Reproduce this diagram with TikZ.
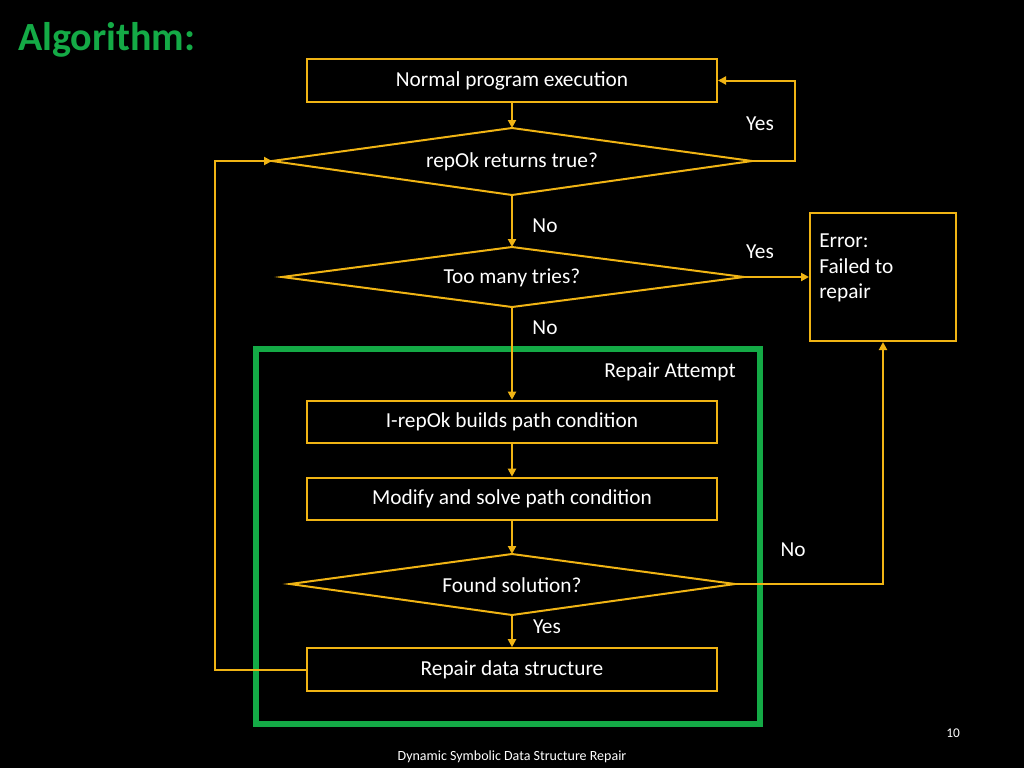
\documentclass[tikz,border=0pt]{standalone}
\usepackage{fontspec}
\setmainfont{Carlito}
\usetikzlibrary{arrows.meta}
\definecolor{flow}{RGB}{240,180,20}
\definecolor{grn}{RGB}{20,170,70}
\tikzset{
  box/.style={draw=flow,line width=1.5pt,minimum width=307.5pt,minimum height=32pt,inner sep=0pt,text=white,font=\fontsize{16}{19}\selectfont},
  lbl/.style={text=white,font=\fontsize{16}{19}\selectfont,inner sep=0.75pt},
  link/.style={draw=flow,line width=1.5pt,-{Triangle[length=6pt,width=6pt]}},
  dia/.style={draw=flow,line width=1.5pt}
}
\begin{document}
\begin{tikzpicture}[x=0.75pt,y=0.75pt,yscale=-1,xscale=1]
\fill[black] (0,0) rectangle (1024,768);
\useasboundingbox (0,0) rectangle (1024,768);

% Title
\node[anchor=west,text=grn,font=\fontsize{30}{34}\selectfont\bfseries,inner sep=0pt] (title) at (18,40) {Algorithm:};

% Repair attempt frame
\draw[grn,line width=4.5pt] (256,349) rectangle (760,724);
\node[lbl] (frame) at (670,372) {Repair Attempt};

% Boxes
\node[box] (exec) at (512,80.5) {Normal program execution};
\node[box] (build) at (512,422) {I-repOk builds path condition};
\node[box] (modify) at (512,499) {Modify and solve path condition};
\node[box] (fix) at (512,669.5) {Repair data structure};
\node[draw=flow,line width=1.5pt,minimum width=109.5pt,minimum height=96pt,inner sep=0pt] (err) at (883,277) {};
\node[lbl,anchor=north west,align=left] (errtxt) at (818,233) {Error:\\Failed to\\repair};

% Decisions
\coordinate (okT) at (512,128); \coordinate (okB) at (512,195);
\coordinate (okL) at (272,161); \coordinate (okR) at (752,161);
\draw[dia] (okT) -- (okR) -- (okB) -- (okL) -- cycle;
\node[lbl] (ok) at (512,162) {repOk returns true?};

\coordinate (trT) at (512,247); \coordinate (trB) at (512,307);
\coordinate (trL) at (282,277); \coordinate (trR) at (744,277);
\draw[dia] (trT) -- (trR) -- (trB) -- (trL) -- cycle;
\node[lbl] (tries) at (512,278) {Too many tries?};

\coordinate (fsT) at (512,554); \coordinate (fsB) at (512,615);
\coordinate (fsL) at (290,584); \coordinate (fsR) at (735,584);
\draw[dia] (fsT) -- (fsR) -- (fsB) -- (fsL) -- cycle;
\node[lbl] (found) at (512,585) {Found solution?};

% Connectors
\draw[link] (exec) -- (okT);
\draw[link] (okR) -- (795,161) -- (795,80.5) -- (exec.east);
\draw[link] (okB) -- (trT);
\draw[link] (trR) -- (err.west |- trR);
\draw[link] (trB) -- (build);
\draw[link] (build) -- (modify);
\draw[link] (modify) -- (fsT);
\draw[link] (fsR) -- (883,584) -- (err.south);
\draw[link] (fsB) -- (fix);
\draw[link] (fix.west) -- (215,669.5) -- (215,161) -- (okL);

% Labels
\node[lbl] (y1) at (760,124) {Yes};
\node[lbl] (n1) at (545,226) {No};
\node[lbl] (y2) at (760,252) {Yes};
\node[lbl] (n2) at (545,328) {No};
\node[lbl] (n3) at (793,550) {No};
\node[lbl] (y3) at (547,627) {Yes};

% Footer
\node[text=white,font=\fontsize{10}{12}\selectfont] (page) at (953,733) {10};
\node[text=white,font=\fontsize{10.5}{12}\selectfont] (foot) at (512,757) {Dynamic Symbolic Data Structure Repair};
\end{tikzpicture}
\end{document}
